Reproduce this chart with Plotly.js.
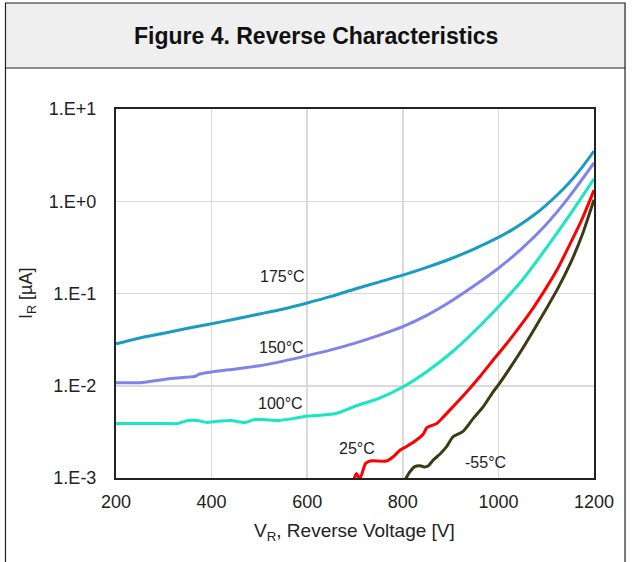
<!DOCTYPE html>
<html>
<head>
<meta charset="utf-8">
<script src="https://cdn.plot.ly/plotly-3.0.1.min.js"></script>
<style>html,body{margin:0;padding:0;background:#fff;}#chart{width:636px;height:562px;}</style>
</head>
<body>
<div id="chart"></div>
<script>
// Reverse voltage [V] and reverse current [uA] per temperature
const v175 = [200, 250, 300, 350, 400, 450, 500, 550, 600, 650, 700, 750, 800, 850, 900, 950, 1000, 1025, 1050, 1075, 1100, 1125, 1150, 1175, 1200];
const i175 = [0.0285, 0.033, 0.037, 0.042, 0.047, 0.053, 0.060, 0.068, 0.079, 0.093, 0.112, 0.133, 0.158, 0.192, 0.238, 0.305, 0.405, 0.477, 0.576, 0.713, 0.91, 1.2, 1.63, 2.33, 3.5];

const v150 = [200, 250, 300, 350, 365, 375, 400, 450, 500, 550, 600, 650, 700, 750, 800, 850, 900, 950, 1000, 1050, 1100, 1150, 1200];
const i150 = [0.0108, 0.0108, 0.0117, 0.0124, 0.0126, 0.0134, 0.0141, 0.0152, 0.0165, 0.0185, 0.0212, 0.0245, 0.029, 0.0352, 0.0438, 0.058, 0.082, 0.122, 0.188, 0.31, 0.56, 1.15, 2.6];

const v100 = [200, 250, 300, 330, 350, 370, 390, 410, 440, 470, 490, 510, 540, 570, 600, 630, 650, 670, 700, 750, 800, 850, 900, 950, 1000, 1050, 1100, 1150, 1200];
const i100 = [0.0039, 0.0039, 0.0039, 0.0039, 0.0042, 0.0042, 0.0040, 0.0041, 0.0042, 0.0040, 0.0043, 0.0043, 0.0042, 0.0044, 0.0047, 0.0048, 0.0049, 0.0052, 0.0060, 0.0073, 0.0097, 0.0142, 0.0225, 0.039, 0.072, 0.14, 0.31, 0.72, 1.75];

const v25 = [698, 703, 708, 712, 722, 732, 766, 780, 794, 808, 825, 843, 850, 871, 885, 906, 934, 961, 989, 1017, 1045, 1073, 1100, 1125, 1150, 1175, 1200];
const i25 = [0.00098, 0.00112, 0.00101, 0.00103, 0.00144, 0.00153, 0.00153, 0.0017, 0.0020, 0.0022, 0.0025, 0.0030, 0.0035, 0.0039, 0.0046, 0.0060, 0.0086, 0.0125, 0.019, 0.0285, 0.044, 0.070, 0.115, 0.19, 0.345, 0.64, 1.32];

const vm55 = [806, 815, 825, 836, 845, 853, 864, 878, 892, 905, 926, 947, 968, 989, 1000, 1025, 1050, 1075, 1100, 1125, 1150, 1175, 1200];
const im55 = [0.00098, 0.00117, 0.00133, 0.00136, 0.00132, 0.00135, 0.00157, 0.00182, 0.0022, 0.0028, 0.0032, 0.0044, 0.0059, 0.0086, 0.0102, 0.0158, 0.025, 0.041, 0.068, 0.115, 0.209, 0.427, 1.04];

const seriesNames = ['175°C', '150°C', '100°C', '25°C', '-55°C'];
const seriesColors = ['#1a9cc2', '#8282ec', '#18e8c2', '#ff0000', '#3e3b14'];

const xTicks = [200, 400, 600, 800, 1000, 1200];
const yTickVals = [0.001, 0.01, 0.1, 1, 10];
const yTickText = ['1.E-3', '1.E-2', '1.E-1', '1.E+0', '1.E+1'];

// label anchor positions (V, uA)
const labelV = [549, 547, 545, 705, 973];
const labelI = [0.152, 0.026, 0.0064, 0.00208, 0.00149];

const xs = [v175, v150, v100, v25, vm55];
const ys = [i175, i150, i100, i25, im55];

const traces = xs.map((x, k) => ({
  x: x, y: ys[k], type: 'scatter', mode: 'lines', name: seriesNames[k],
  line: {color: seriesColors[k], width: 3, shape: 'spline', smoothing: 0.6},
  hoverinfo: 'skip'
}));

const font = 'Liberation Sans, Arial, sans-serif';
const annotations = seriesNames.map((n, k) => ({
  x: labelV[k], y: Math.log10(labelI[k]), xref: 'x', yref: 'y', text: n,
  xanchor: 'center', yanchor: 'middle',
  showarrow: false, font: {family: font, size: 16, color: '#222'}
}));
annotations.push({
  x: 0.418, y: 1.198, xref: 'paper', yref: 'paper', text: '<b>Figure 4. Reverse Characteristics</b>',
  xanchor: 'center', yanchor: 'middle',
  showarrow: false, font: {family: font, size: 23, color: '#111'}
});
annotations.push({
  x: 0.498, y: -0.145, xref: 'paper', yref: 'paper', text: 'V<sub>R</sub>, Reverse Voltage [V]',
  xanchor: 'center', yanchor: 'middle',
  showarrow: false, font: {family: font, size: 19, color: '#222'}
});
annotations.push({
  x: -0.185, y: 0.5, xref: 'paper', yref: 'paper', text: 'I<sub>R</sub> [µA]', textangle: -90,
  xanchor: 'center', yanchor: 'middle',
  showarrow: false, font: {family: font, size: 18, color: '#222'}
});

const layout = {
  width: 636, height: 562,
  margin: {l: 116, r: 42, t: 109, b: 84},
  paper_bgcolor: '#fff', plot_bgcolor: '#fff',
  showlegend: false,
  xaxis: {
    range: [200, 1200], tickvals: xTicks, ticks: 'outside', ticklen: 6, tickcolor: 'rgba(0,0,0,0)',
    showgrid: true, gridcolor: '#dadada', gridwidth: 1.5,
    showline: true, linecolor: '#222', linewidth: 2, mirror: true, zeroline: false,
    tickfont: {family: font, size: 18, color: '#222'}
  },
  yaxis: {
    type: 'log', range: [-3, 1], tickvals: yTickVals, ticktext: yTickText,
    ticks: 'outside', ticklen: 14, tickcolor: 'rgba(0,0,0,0)',
    showgrid: true, gridcolor: '#dadada', gridwidth: 1.5,
    showline: true, linecolor: '#222', linewidth: 2, mirror: true, zeroline: false,
    tickfont: {family: font, size: 18, color: '#222'}
  },
  annotations: annotations,
  shapes: [
    {type: 'rect', xref: 'paper', yref: 'paper', x0: -0.2312, x1: 1.0649, y0: 1.1111, y1: 1.2873,
     fillcolor: '#efefef', line: {color: '#222', width: 1.2}, layer: 'below'},
    {type: 'line', xref: 'paper', yref: 'paper', x0: -0.2312, x1: -0.2312, y0: 1.1111, y1: -0.25,
     line: {color: '#222', width: 1.2}},
    {type: 'line', xref: 'paper', yref: 'paper', x0: 1.0649, x1: 1.0649, y0: 1.1111, y1: -0.25,
     line: {color: '#222', width: 1.2}}
  ]
};

Plotly.newPlot('chart', traces, layout, {displayModeBar: false, staticPlot: true});
</script>
</body>
</html>
